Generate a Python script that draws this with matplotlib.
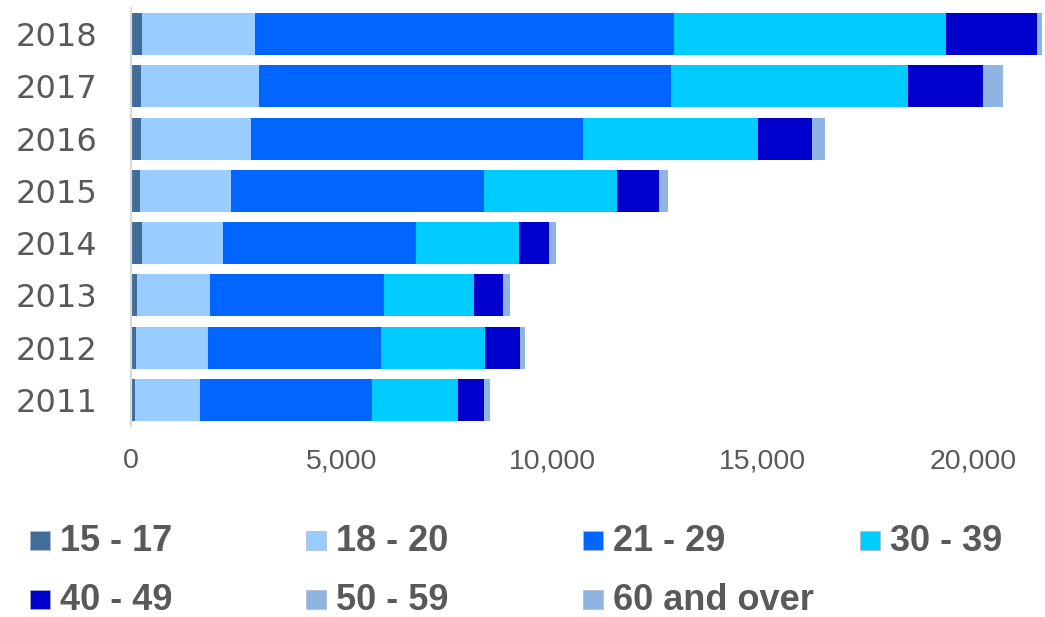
import matplotlib.pyplot as plt
from matplotlib.patches import Rectangle
from matplotlib.ticker import FuncFormatter
import numpy as np

years = ['2011', '2012', '2013', '2014', '2015', '2016', '2017', '2018']
age_groups = ['15 - 17', '18 - 20', '21 - 29', '30 - 39', '40 - 49', '50 - 59', '60 and over']

age_15_17 = [87, 111, 150, 268, 206, 237, 237, 270]
age_18_20 = [1550, 1708, 1731, 1915, 2159, 2617, 2793, 2670]
age_21_29 = [4073, 4105, 4129, 4595, 6017, 7872, 9791, 9945]
age_30_39 = [2065, 2491, 2128, 2427, 3160, 4157, 5622, 6465]
age_40_49 = [607, 822, 704, 720, 997, 1285, 1790, 2161]
age_50_59 = [122, 102, 120, 128, 175, 237, 372, 101]
age_60_over = [30, 25, 30, 30, 40, 60, 90, 25]

colors = ['#406D99', '#99CCFF', '#0066FF', '#00CCFF', '#0000CC', '#8EB4E3', '#8EB4E3']
grey = '#595959'

series = [age_15_17, age_18_20, age_21_29, age_30_39, age_40_49, age_50_59, age_60_over]

fig = plt.figure(figsize=(10.45, 6.17), dpi=100)
ax = fig.add_axes([131 / 1045, 1 - 426 / 617, 914 / 1045, 418 / 617])

y = np.arange(len(years))
left = np.zeros(len(years))
for vals, c, name in zip(series, colors, age_groups):
    ax.barh(y, vals, left=left, height=0.8, color=c, linewidth=0, label=name)
    left += np.array(vals)

ax.set_xlim(0, 21700)
ax.set_ylim(-0.5, 7.5)
ax.set_yticks(y)
ax.set_yticklabels(years, fontsize=23, color=grey, family='DejaVu Sans')
ax.set_xticks([0, 5000, 10000, 15000, 20000])
ax.xaxis.set_major_formatter(FuncFormatter(lambda v, p: f'{int(v):,}'))
for lab in ax.get_xticklabels():
    lab.set_fontsize(20.5)
    lab.set_color(grey)
    lab.set_family('Liberation Sans')
ax.tick_params(axis='x', length=0, pad=16)
ax.tick_params(axis='y', length=0, pad=24)
for s in ['top', 'right', 'bottom']:
    ax.spines[s].set_visible(False)
ax.spines['left'].set_color('#d9d9d9')
ax.spines['left'].set_linewidth(1.6)

# legend laid out on a fixed grid, four per row
W, H = 1045, 617
col_x = [30, 306, 583, 860]
row_base = [551, 610]
for i, (name, c) in enumerate(zip(age_groups, colors)):
    cx = col_x[i % 4]
    base = row_base[i // 4]
    fig.add_artist(Rectangle((cx / W, 1 - (base - 1) / H), 20 / W, 19 / H,
                             transform=fig.transFigure, facecolor=c,
                             edgecolor='#b0b8c4', linewidth=0.5))
    fig.text((cx + 30) / W, 1 - base / H, name, fontsize=26, fontweight='bold',
             color=grey, family='Liberation Sans', va='baseline', ha='left')

fig.savefig('out.png', dpi=100)
